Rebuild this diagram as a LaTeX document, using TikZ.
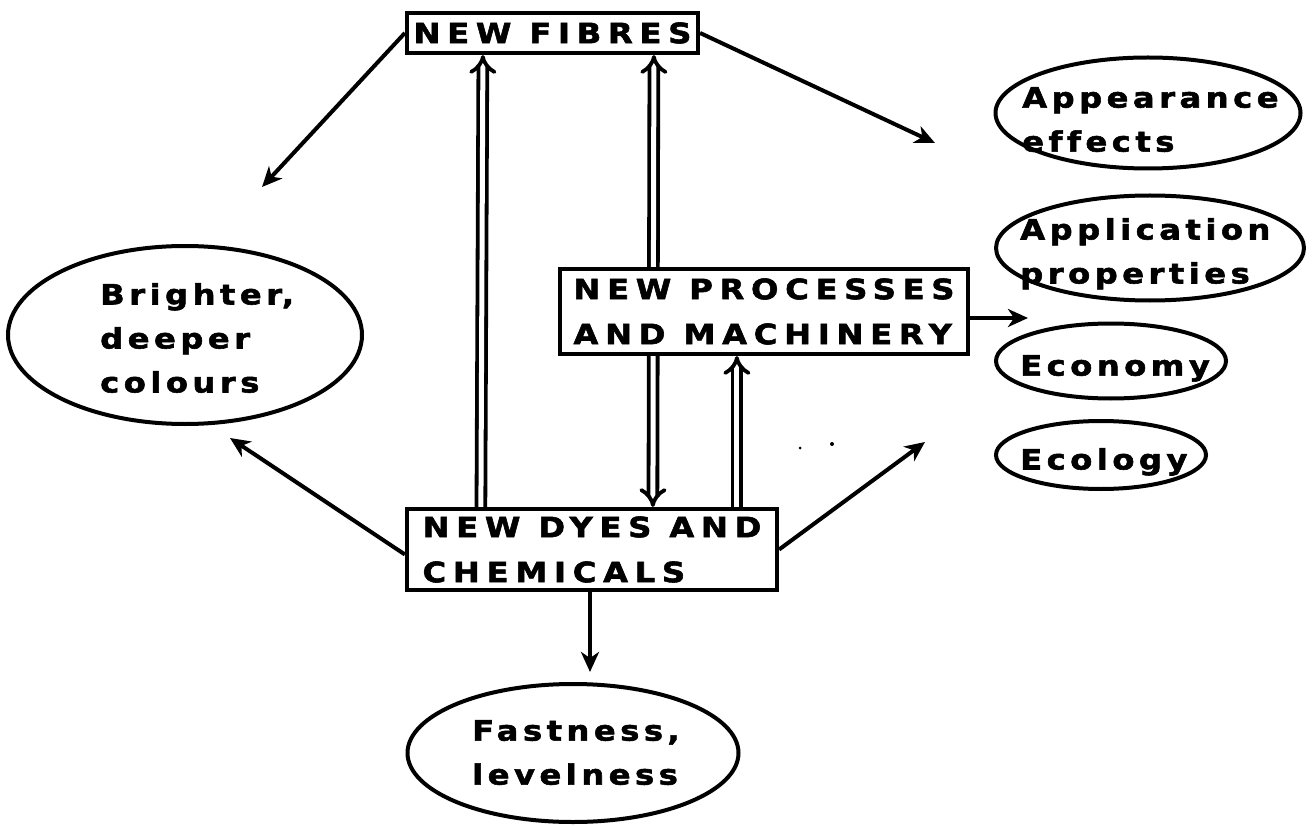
\documentclass[tikz,border=0pt]{standalone}
\usepackage{fontspec}
\usetikzlibrary{shapes.geometric,arrows.meta,calc}
\newfontfamily\boxfont[LetterSpace=24, FakeStretch=1.15, FakeBold=2, Ligatures=NoCommon]{DejaVu Sans Bold}
\newfontfamily\blobfont[LetterSpace=16, FakeStretch=1.15, FakeBold=2, Ligatures=NoCommon]{DejaVu Sans Bold}
\begin{document}
\begin{tikzpicture}[x=1pt,y=-1pt,
  bfont/.style={font=\boxfont\fontsize{28}{45}\selectfont},
  lfont/.style={font=\blobfont\fontsize{28}{44}\selectfont},
  boxnode/.style={draw, line width=4.2pt, fill=white, inner sep=0pt, bfont, align=left},
  blob/.style={draw, ellipse, line width=4pt, inner sep=0pt},
  txt/.style={lfont, align=left, inner sep=0pt, anchor=north west},
  arr/.style={line width=4pt, -{Stealth[length=20pt,width=18pt,inset=6pt]}},
  itip/.tip={Implies[length=12pt,width=24pt]},
  dbl/.style={double, double distance=5pt, line width=3.8pt, -itip},
  speck/.style={fill=black, inner sep=0pt, circle}]
\useasboundingbox (0,0) rectangle (1314,826);

% boxes
\node[boxnode, minimum width=291pt, minimum height=40pt] (fib) at (552.5,33) {NEW FIBRES};
\node[boxnode, minimum width=370pt, minimum height=81pt] (dyes) at (592,549.5) {NEW DYES AND\\CHEMICALS};

% double arrows (the FIBRES-DYES one passes behind the PROCESSES box)
\coordinate (d1) at ([xshift=76pt]dyes.north west);
\coordinate (f1) at ([xshift=78pt]fib.south west);
\coordinate (d2) at ([xshift=248pt]dyes.north west);
\coordinate (f2) at ([xshift=249pt]fib.south west);
\draw[dbl] (d1) -- (f1);
\draw[dbl, itip-itip] (f2) -- (d2);

\node[boxnode, minimum width=408pt, minimum height=85pt] (proc) at (764,311.5) {NEW PROCESSES\\AND MACHINERY};

\coordinate (d3) at ([xshift=332pt]dyes.north west);
\draw[dbl] (d3) -- (d3 |- proc.south);

% blobs
\node[blob, minimum width=354pt, minimum height=178pt] (bri) at (185,335) {};
\node[blob, minimum width=331pt, minimum height=138pt] (fast) at (573,753) {};
\node[blob, minimum width=305pt, minimum height=111pt] (appe) at (1148,113) {};
\node[blob, minimum width=308pt, minimum height=105pt] (appl) at (1150,248) {};
\node[blob, minimum width=230pt, minimum height=75pt] (econ) at (1111,361) {};
\node[blob, minimum width=210pt, minimum height=68pt] (ecol) at (1101,455) {};

\node[txt] (tbri) at (100,283) {Brighter,\\deeper\\colours};
\node[txt] (tfast) at (472,720) {Fastness,\\levelness};
\node[txt] (tappe) at (1022,87) {Appearance\\effects};
\node[txt] (tappl) at (1020,218) {Application\\properties};
\node[txt] (tecon) at (1020,355) {Economy};
\node[txt] (tecol) at (1020,448) {Ecology};

% single arrows
\coordinate (ta) at (262,187);
\coordinate (tb) at (935,143);
\coordinate (tc) at (1028,318);
\coordinate (td) at (230,438);
\coordinate (te) at (925,442);
\coordinate (tf) at (590,672);
\draw[arr] (fib.west) -- (ta);
\draw[arr] (fib.east) -- (tb);
\draw[arr] (proc.east |- tc) -- (tc);
\draw[arr] ($(dyes.west)+(0,5)$) -- (td);
\draw[arr] (dyes.east) -- (te);
\draw[arr] (tf |- dyes.south) -- (tf);

% specks
\node[speck, minimum size=3pt] (s2) at (800,448) {};
\node[speck, minimum size=4pt] (s3) at (832,444) {};
\end{tikzpicture}
\end{document}
